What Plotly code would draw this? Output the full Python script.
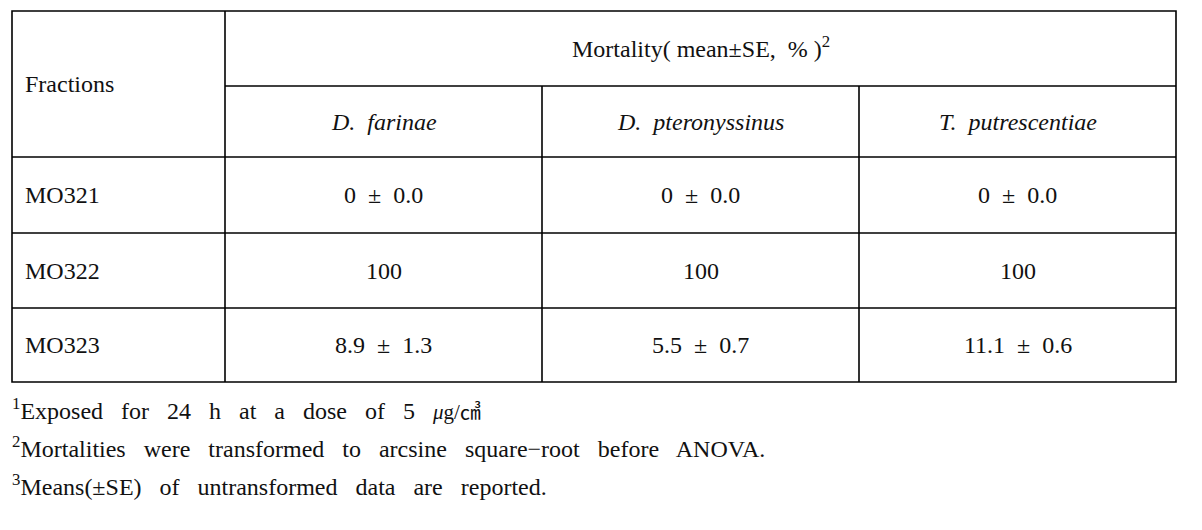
import plotly.graph_objects as go

# table content
fractions = ["MO321", "MO322", "MO323"]
species = ["D.\u2002farinae", "D.\u2002pteronyssinus", "T.\u2002putrescentiae"]
mortality = [
    ["0  ±  0.0", "0  ±  0.0", "0  ±  0.0"],
    ["100", "100", "100"],
    ["8.9  ±  1.3", "5.5  ±  0.7", "11.1  ±  0.6"],
]
header_left = "Fractions"
header_top = "Mortality( mean±SE,\u2002% )<sup>2</sup>"
GAP = "\u2002 "
unit = "<span style='font-size:21px'><i>μ</i>g/㎤</span>"
footnotes = [
    ("1", GAP.join(["Exposed", "for", "24", "h", "at", "a", "dose", "of", "5", unit])),
    ("2", GAP.join(["Mortalities", "were", "transformed", "to", "arcsine", "square−root",
                    "before", "ANOVA."])),
    ("3", GAP.join(["Means(±SE)", "of", "untransformed", "data", "are", "reported."])),
]

# grid geometry (pixel space)
col_x = [12, 225, 542, 859, 1176]
row_y = [11, 86, 157, 233, 308, 382]
foot_y = [409, 447, 485]

FONT = "Liberation Serif, 'Noto Sans CJK KR', serif"
SIZE = 24
INK = "#111"

fig = go.Figure()
fig.add_trace(go.Scatter(x=[0, 1202], y=[0, 530], mode="markers",
                         marker=dict(opacity=0), hoverinfo="skip", showlegend=False))

line = dict(color="black", width=1.6)
# outer box
fig.add_shape(type="rect", x0=col_x[0], x1=col_x[-1], y0=row_y[0], y1=row_y[-1], line=line)
# column lines (first one spans full height, the others start below the merged header)
fig.add_shape(type="line", x0=col_x[1], x1=col_x[1], y0=row_y[0], y1=row_y[-1], line=line)
for cx in col_x[2:-1]:
    fig.add_shape(type="line", x0=cx, x1=cx, y0=row_y[1], y1=row_y[-1], line=line)
# row lines
fig.add_shape(type="line", x0=col_x[1], x1=col_x[-1], y0=row_y[1], y1=row_y[1], line=line)
for ry in row_y[2:-1]:
    fig.add_shape(type="line", x0=col_x[0], x1=col_x[-1], y0=ry, y1=ry, line=line)


def txt(x, y, s, anchor="center", size=SIZE):
    fig.add_annotation(x=x, y=y, text=s, showarrow=False, xanchor=anchor, yanchor="middle",
                       font=dict(family=FONT, size=size, color=INK))


txt(col_x[0] + 11, (row_y[0] + row_y[2]) / 2, header_left, "left")
txt((col_x[1] + col_x[-1]) / 2, (row_y[0] + row_y[1]) / 2 - 2, header_top)
for i, sp in enumerate(species):
    txt((col_x[i + 1] + col_x[i + 2]) / 2, (row_y[1] + row_y[2]) / 2, "<i>" + sp + "</i>")
for r, fr in enumerate(fractions):
    yc = (row_y[r + 2] + row_y[r + 3]) / 2
    txt(col_x[0] + 11, yc, fr, "left")
    for c in range(3):
        txt((col_x[c + 1] + col_x[c + 2]) / 2, yc, mortality[r][c])

for (num, note), fy in zip(footnotes, foot_y):
    txt(col_x[0] - 2, fy, "<sup>" + num + "</sup>" + note, "left")

fig.update_layout(
    width=1202, height=530,
    margin=dict(l=0, r=0, t=0, b=0),
    plot_bgcolor="white", paper_bgcolor="white",
    xaxis=dict(range=[0, 1202], visible=False, fixedrange=True),
    yaxis=dict(range=[530, 0], visible=False, fixedrange=True),
)
fig.write_html("out.html", config={"displayModeBar": False},
               post_script="document.body.style.margin='0';")
